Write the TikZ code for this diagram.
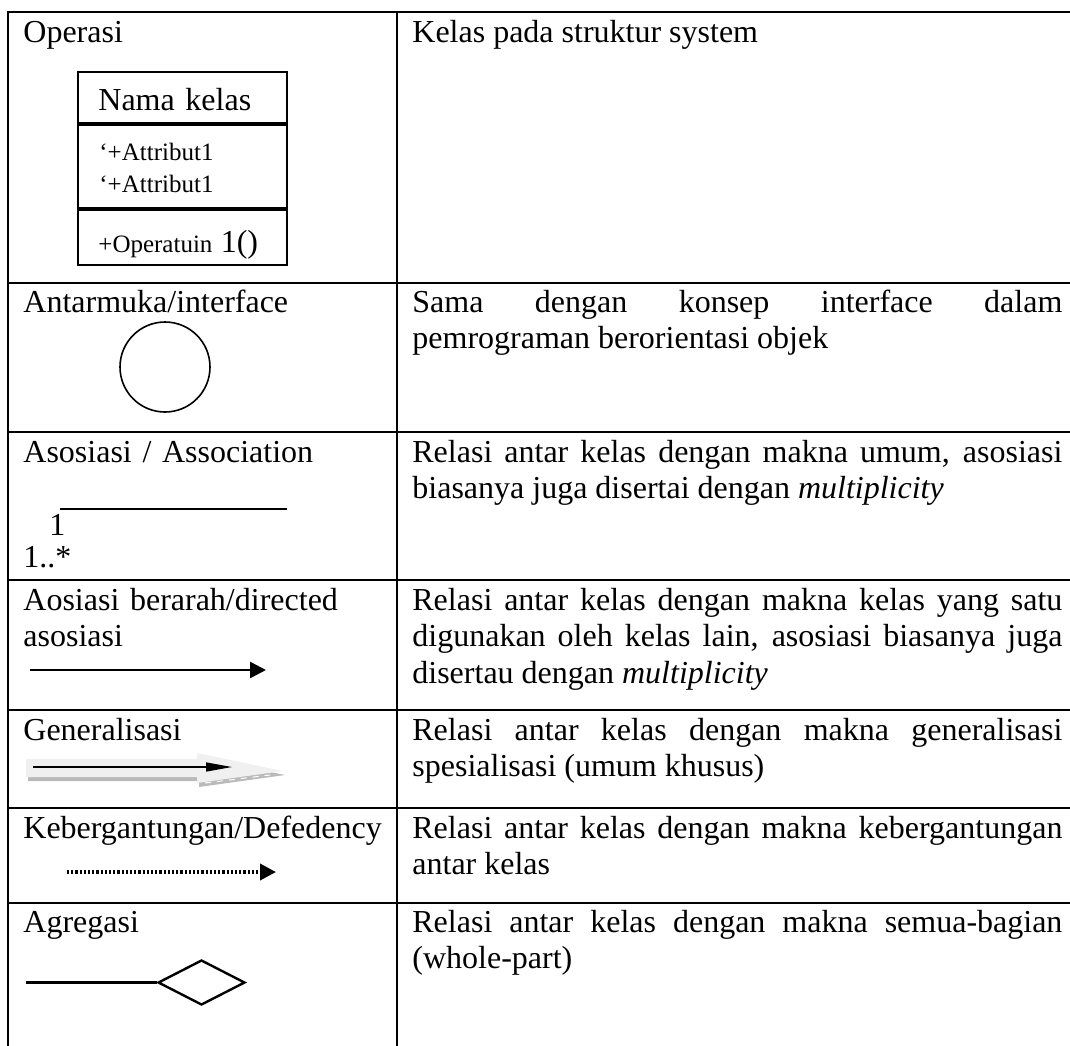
\documentclass[tikz,border=0pt]{standalone}
\usepackage{fontspec}
\setmainfont{Liberation Serif}
\usetikzlibrary{arrows.meta,shapes.geometric}
\hyphenpenalty=10000
\exhyphenpenalty=10000
\tolerance=10000
\begin{document}
\begin{tikzpicture}[x=0.5pt, y=-0.5pt,
    grid/.style={line width=1.3pt},
    lbl/.style={anchor=base west, inner sep=0pt, text width=180pt, align=left, font=\fontsize{16}{18.4}\selectfont},
    desc/.style={anchor=base west, inner sep=0pt, text width=325pt, align=justify, font=\fontsize{16}{18.4}\selectfont},
    member/.style={anchor=base west, inner sep=0pt, text width=90pt, align=left, font=\fontsize{12.5}{16}\selectfont},
    tip/.style={-{Triangle[length=8pt,width=8pt]}, line width=1.3pt}]
    \useasboundingbox (0,0) rectangle (1070,1045);

    \draw[grid] (8,1050) -- (8,12) -- (1075,12);
    \draw[grid] (397,12) -- (397,1050);
    \foreach \y in {283,432,580,710,808,903} {
        \draw[grid] (8,\y) -- (1075,\y);
    }

    \node[lbl] (opr) at (23,42) {Operasi};
    \node[desc] (oprd) at (412,42) {Kelas pada struktur system};

    \draw[line width=1pt] (78,72) rectangle (287,265);
    \draw[line width=1.6pt] (78,124) -- (287,124);
    \draw[line width=1.6pt] (78,209) -- (287,209);
    \node[lbl] (kname) at (98,110) {Nama kelas};
    \node[member] (kattr) at (99,160) {‘+Attribut1\\‘+Attribut1};
    \node[member] (kop) at (98,252) {+Operatuin {\fontsize{16}{18.4}\selectfont 1()}};

    \node[lbl] (ifc) at (23,312) {Antarmuka/interface};
    \node[desc] (ifcd) at (412,312) {Sama dengan konsep interface dalam\linebreak pemrograman berorientasi objek};
    \node[circle, draw, line width=0.8pt, minimum size=45pt, inner sep=0pt] (ifcc) at (165,367) {};

    \node[lbl] (aso) at (23,462) {Asosiasi / Association};
    \node[desc] (asod) at (412,462) {Relasi antar kelas dengan makna umum, asosiasi\linebreak biasanya juga disertai dengan \textit{multiplicity}};
    \coordinate (asoA) at (60,509);
    \coordinate (asoB) at (287,509);
    \draw[line width=1.3pt] (asoA) -- (asoB);
    \node[lbl] (asoone) at (49,535) {1};
    \node[lbl] (asomany) at (23,567) {1..*};

    \node[lbl] (dir) at (23,610) {Aosiasi berarah/directed\\asosiasi};
    \node[desc] (dird) at (412,610) {Relasi antar kelas dengan makna kelas yang satu\linebreak digunakan oleh kelas lain, asosiasi biasanya juga\linebreak disertau dengan \textit{multiplicity}};
    \coordinate (dirA) at (30,670);
    \coordinate (dirB) at (266,670);
    \draw[tip] (dirA) -- (dirB);

    \node[lbl] (gen) at (23,740) {Generalisasi};
    \node[desc] (gend) at (412,740) {Relasi antar kelas dengan makna generalisasi\linebreak spesialisasi (umum khusus)};
    \fill[black!27] (28,763) -- (199,763) -- (199,757) -- (285,775) -- (199,787) -- (199,781) -- (28,781) -- cycle;
    \fill[black!6] (26,759) -- (197,759) -- (197,753) -- (283,771) -- (197,783) -- (197,777) -- (26,777) -- cycle;
    \draw[white, dashed, line width=0.5pt] (205,783) -- (270,775);
    \coordinate (genA) at (33,767);
    \coordinate (genB) at (232,767);
    \draw[-{Triangle[length=13pt,width=4.5pt]}, line width=0.7pt] (genA) -- (genB);

    \node[lbl] (dep) at (23,838) {Kebergantungan/Defedency};
    \node[desc] (depd) at (412,838) {Relasi antar kelas dengan makna kebergantungan\linebreak antar kelas};
    \coordinate (depA) at (67,872);
    \coordinate (depB) at (276,872);
    \draw[tip, line width=1.8pt, dash pattern=on 1.1pt off 1pt] (depA) -- (depB);

    \node[lbl] (agg) at (23,932) {Agregasi};
    \node[desc] (aggd) at (412,932) {Relasi antar kelas dengan makna semua-bagian\linebreak (whole-part)};
    \node[diamond, draw, line width=1.2pt, minimum width=43.5pt, minimum height=22.5pt, inner sep=0pt] (aggw) at (201.5,982.5) {};
    \coordinate (aggA) at (26,982.5);
    \draw[line width=1.2pt] (aggA) -- (aggw.west);
\end{tikzpicture}
\end{document}
